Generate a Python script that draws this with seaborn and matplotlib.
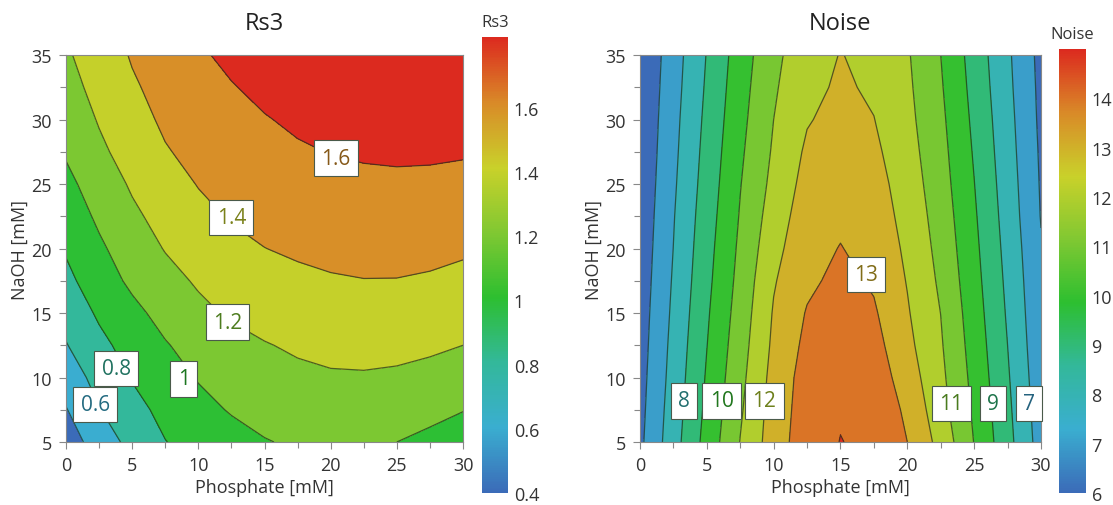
import numpy as np
import matplotlib
matplotlib.use("Agg")
import matplotlib.pyplot as plt
import seaborn as sns
from matplotlib.colors import Normalize
from matplotlib.cm import ScalarMappable
from matplotlib.ticker import MultipleLocator


# -------------------- DATA --------------------
phosphate = [0, 2.5, 5, 7.5, 10, 12.5, 15, 17.5, 20, 22.5, 25, 27.5, 30]
naoh = [5, 7.5, 10, 12.5, 15, 17.5, 20, 22.5, 25, 27.5, 30, 32.5, 35]

# one row per NaOH value, one column per phosphate value
rs3 = [
    [0.30, 0.49, 0.66, 0.795, 0.87, 0.935, 0.99, 1.025, 1.04, 1.03, 1.00, 0.95, 0.89],
    [0.39, 0.592, 0.735, 0.855, 0.945, 1.014, 1.063, 1.096, 1.111, 1.110, 1.093, 1.058, 1.007],
    [0.49, 0.669, 0.812, 0.92, 1.012, 1.078, 1.128, 1.162, 1.181, 1.184, 1.172, 1.145, 1.102],
    [0.59, 0.75, 0.876, 0.987, 1.07, 1.135, 1.19, 1.225, 1.248, 1.256, 1.25, 1.231, 1.20],
    [0.67, 0.828, 0.953, 1.06, 1.155, 1.225, 1.267, 1.299, 1.319, 1.327, 1.323, 1.306, 1.277],
    [0.75, 0.909, 1.036, 1.136, 1.223, 1.281, 1.327, 1.362, 1.385, 1.396, 1.395, 1.381, 1.354],
    [0.82, 0.97, 1.095, 1.21, 1.285, 1.35, 1.398, 1.426, 1.444, 1.453, 1.454, 1.445, 1.425],
    [0.89, 1.032, 1.165, 1.265, 1.35, 1.415, 1.451, 1.479, 1.498, 1.509, 1.511, 1.504, 1.489],
    [0.95, 1.094, 1.223, 1.32, 1.408, 1.458, 1.498, 1.530, 1.552, 1.564, 1.568, 1.563, 1.552],
    [1.02, 1.163, 1.28, 1.387, 1.45, 1.50, 1.54, 1.58, 1.605, 1.62, 1.628, 1.626, 1.616],
    [1.075, 1.214, 1.333, 1.43, 1.49, 1.545, 1.59, 1.629, 1.661, 1.682, 1.692, 1.689, 1.68],
    [1.135, 1.256, 1.378, 1.46, 1.53, 1.59, 1.642, 1.687, 1.721, 1.744, 1.755, 1.754, 1.746],
    [1.175, 1.30, 1.415, 1.50, 1.575, 1.641, 1.699, 1.745, 1.781, 1.805, 1.818, 1.819, 1.81],
]

noise = [
    [5.79, 7.59, 9.36, 11.03, 12.5, 13.57, 14.02, 13.83, 13.0, 11.67, 9.97, 8.33, 6.57],
    [5.71, 7.49, 9.22, 10.87, 12.43, 13.49, 13.93, 13.74, 12.81, 11.38, 9.84, 8.22, 6.48],
    [5.64, 7.38, 9.10, 10.72, 12.33, 13.43, 13.82, 13.58, 12.51, 11.23, 9.71, 8.11, 6.38],
    [5.57, 7.29, 8.98, 10.58, 12.19, 13.25, 13.66, 13.35, 12.26, 11.10, 9.59, 8.0, 6.29],
    [5.51, 7.19, 8.87, 10.44, 12.08, 13.07, 13.47, 13.12, 12.09, 10.99, 9.47, 7.89, 6.22],
    [5.44, 7.10, 8.75, 10.31, 11.92, 12.8, 13.26, 12.88, 11.95, 10.83, 9.35, 7.79, 6.15],
    [5.38, 7.01, 8.65, 10.19, 11.68, 12.72, 13.03, 12.72, 11.81, 10.69, 9.24, 7.69, 6.07],
    [5.31, 6.94, 8.54, 10.07, 11.47, 12.54, 12.85, 12.54, 11.67, 10.56, 9.13, 7.59, 5.96],
    [5.25, 6.85, 8.43, 9.96, 11.27, 12.35, 12.68, 12.39, 11.53, 10.43, 9.02, 7.5, 5.91],
    [5.19, 6.77, 8.33, 9.84, 11.12, 12.16, 12.5, 12.2, 11.39, 10.32, 8.91, 7.41, 5.86],
    [5.14, 6.70, 8.23, 9.72, 11.0, 11.93, 12.3, 12.02, 11.27, 10.21, 8.80, 7.33, 5.80],
    [5.09, 6.62, 8.13, 9.61, 10.88, 11.72, 12.15, 11.85, 11.18, 10.1, 8.69, 7.24, 5.76],
    [5.03, 6.55, 8.04, 9.5, 10.76, 11.6, 12.03, 11.76, 11.1, 10.0, 8.59, 7.17, 5.71],
]

# contour levels / colorbar ranges
rs3_levels = [0.4, 0.6, 0.8, 1.0, 1.2, 1.4, 1.6]
rs3_range = (0.4, 1.82)
rs3_ticks = [0.4, 0.6, 0.8, 1.0, 1.2, 1.4, 1.6]
rs3_ticklabels = ["0.4", "0.6", "0.8", "1", "1.2", "1.4", "1.6"]

noise_levels = [6, 7, 8, 9, 10, 11, 12, 13, 14]
noise_range = (6, 15)
noise_ticks = [6, 7, 8, 9, 10, 11, 12, 13, 14]

# labels drawn on the contour lines
rs3_labels = ["0.6", "0.8", "1", "1.2", "1.4", "1.6"]
rs3_label_xy = [(2.2, 7.9), (3.8, 10.7), (8.9, 9.9), (12.2, 14.3), (12.5, 22.4), (20.4, 27.0)]
noise_labels = ["8", "10", "12", "13", "11", "9", "7"]
noise_label_xy = [(3.3, 8.2), (6.1, 8.2), (9.3, 8.2), (16.9, 18.0), (23.3, 8.0), (26.4, 8.0), (29.1, 8.0)]


# -------------------- STYLE --------------------
sns.set_style("ticks")
plt.rcParams['font.family'] = ['Open Sans', 'DejaVu Sans']
plt.rcParams['text.color'] = '#222222'

cmap = sns.blend_palette(['#3b6bb8', '#3aaed0', '#33b89a', '#2dbf30',
                          '#80c832', '#c9d12a', '#d98a28', '#dc2a1f'], as_cmap=True)


def darker(c, f=0.62):
    return tuple(v * f for v in c[:3])


def draw_panel(ax, cax, Z, levels, vrange, ticks, ticklabels, title, labels, label_xy):
    Z = np.array(Z)
    norm = Normalize(*vrange)
    # bands are painted with the colour of their upper level
    fill_levels = [Z.min() - 1] + list(levels) + [Z.max() + 1]
    uppers = list(levels) + [vrange[1]]
    band_colors = [cmap(norm(u)) for u in uppers]
    ax.contourf(phosphate, naoh, Z, levels=fill_levels, colors=band_colors)
    ax.contour(phosphate, naoh, Z, levels=levels, colors='#1c2e1c',
               linewidths=0.9, alpha=0.7)

    for txt, (lx, ly) in zip(labels, label_xy):
        val = float(txt)
        ax.text(lx, ly, txt, ha='center', va='center', fontsize=15,
                color=darker(cmap(norm(val))), zorder=5,
                bbox=dict(boxstyle='square,pad=0.35', fc='white',
                          ec='#4a5a4a', lw=0.8))

    ax.set_xlim(0, 30)
    ax.set_ylim(5, 35)
    ax.xaxis.set_major_locator(MultipleLocator(5))
    ax.xaxis.set_minor_locator(MultipleLocator(2.5))
    ax.yaxis.set_major_locator(MultipleLocator(5))
    ax.yaxis.set_minor_locator(MultipleLocator(2.5))
    ax.grid(which='both', color='white', alpha=0.12, lw=0.6)
    ax.tick_params(which='major', direction='out', length=5, width=0.8, pad=5,
                   color='#888888', labelsize=13, labelcolor='#333333')
    ax.tick_params(which='minor', direction='out', length=4, width=0.8, color='#888888')
    for sp in ax.spines.values():
        sp.set_color('#888888')
        sp.set_linewidth(0.8)
    ax.set_xlabel('Phosphate [mM]', fontsize=13, color='#333333', labelpad=3)
    ax.set_ylabel('NaOH [mM]', fontsize=13, color='#333333', labelpad=2)
    ax.set_title(title, fontsize=17, pad=19)

    sm = ScalarMappable(norm=norm, cmap=cmap)
    cb = plt.colorbar(sm, cax=cax)
    cb.outline.set_visible(False)
    cb.set_ticks(ticks)
    cb.set_ticklabels(ticklabels)
    cb.ax.tick_params(length=0, labelsize=13, labelcolor='#333333', pad=4)
    cax.set_title(title, fontsize=12, pad=8, color='#333333')


# -------------------- FIGURE --------------------
fig = plt.figure(figsize=(11.13, 5.06), dpi=100)
ax1 = fig.add_axes([0.0593, 0.1245, 0.3567, 0.7648])
cax1 = fig.add_axes([0.4331, 0.0237, 0.0234, 0.901])
ax2 = fig.add_axes([0.575, 0.1245, 0.3603, 0.7648])
cax2 = fig.add_axes([0.9515, 0.0237, 0.0243, 0.8775])

draw_panel(ax1, cax1, rs3, rs3_levels, rs3_range, rs3_ticks, rs3_ticklabels,
           'Rs3', rs3_labels, rs3_label_xy)
draw_panel(ax2, cax2, noise, noise_levels, noise_range, noise_ticks,
           [str(t) for t in noise_ticks], 'Noise', noise_labels, noise_label_xy)

fig.savefig('out.png', dpi=100)
